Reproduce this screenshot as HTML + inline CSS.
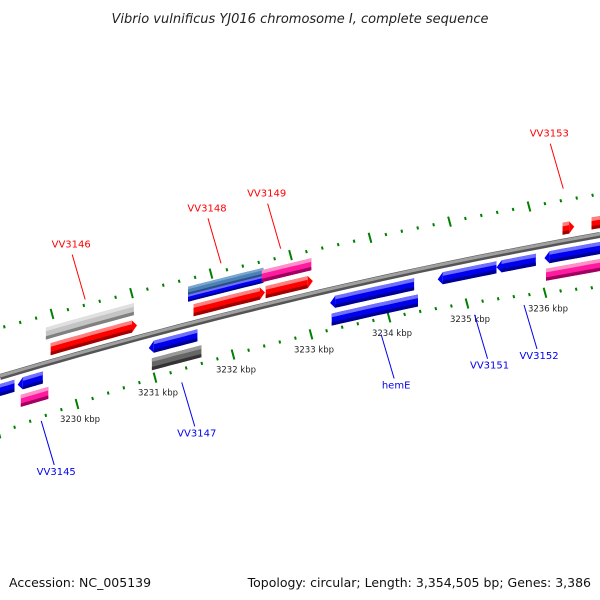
<!DOCTYPE html>
<html><head><meta charset="utf-8"><style>
html,body{margin:0;padding:0;background:#fff}
svg{display:block}
text{font-family:"DejaVu Sans","Liberation Sans",sans-serif}
</style></head><body>
<svg id="map" width="600" height="600" viewBox="0 0 600 600" xmlns="http://www.w3.org/2000/svg">
<text x="300" y="23" text-anchor="middle" font-size="13" font-style="italic" fill="#222">Vibrio vulnificus YJ016 chromosome I, complete sequence</text>
<text x="9" y="587" font-size="12.5" fill="#111">Accession: NC_005139</text>
<text x="591" y="587" text-anchor="end" font-size="12.5" fill="#111">Topology: circular; Length: 3,354,505 bp; Genes: 3,386</text>
<g id="layer"></g>
</svg>
<script>
// ---- data ----
const tickStartKbp = 3229;
const tickEndKbp = 3237;
const tickLabels = ["3230 kbp","3231 kbp","3232 kbp","3233 kbp","3234 kbp","3235 kbp","3236 kbp"];
const tickLabelKbp = [3230,3231,3232,3233,3234,3235,3236];
// features: start/end in kbp
const fwdInnerStart = [3229.83, 3231.65, 3232.57, 3236.35, 3236.72];
const fwdInnerEnd   = [3230.93, 3232.56, 3233.17, 3236.50, 3237.2];
const fwdInnerColor = ["red","red","red","red","red"];
const fwdOuterStart = [3229.77, 3231.58, 3232.52];
const fwdOuterEnd   = [3230.89, 3232.54, 3233.15];
const fwdOuterColor = ["lightgray","steelblue","pink"];
const revInnerStart = [3228.9, 3229.41, 3231.08, 3233.39, 3234.76, 3235.51, 3236.12];
const revInnerEnd   = [3229.37, 3229.73, 3231.70, 3234.46, 3235.51, 3236.01, 3237.2];
const revInnerColor = ["blue","blue","blue","blue","blue","blue","blue"];
const revOuterStart = [3229.45, 3231.12, 3233.41, 3236.14];
const revOuterEnd   = [3229.80, 3231.75, 3234.51, 3237.2];
const revOuterColor = ["pink","darkgray","blue","pink"];
const labelNames = ["VV3146","VV3148","VV3149","VV3153","VV3145","VV3147","hemE","VV3151","VV3152"];
const labelKbp   = [3230.27, 3232.0, 3232.76, 3236.36, 3229.71, 3231.50, 3234.04, 3235.23, 3235.86];
const labelStrand= [1,1,1,1,-1,-1,-1,-1,-1];

// ---- geometry ----
const NS="http://www.w3.org/2000/svg";
const layer=document.getElementById('layer');
function quad(a,b,c){return x=>{const t=x/300;return a*(t-1)*(t-2)/2 - b*t*(t-2) + c*t*(t-1)/2;};}
const bb=quad(377,297,235);
const topRing=quad(328,253,194);
const botRing=quad(433,337,287);
const xb=k=>64+78.5*(k-3230);
const xTop=k=>52+79.5*(k-3230);
const xBot=k=>77+78*(k-3230);
const pal={red:["#ff8080","#ff0000","#a00000"],blue:["#7070ff","#0000ee","#000090"],pink:["#ff90c8","#ff1aa0","#a00060"],lightgray:["#e0e0e0","#c4c4c4","#808080"],darkgray:["#999","#666","#333"],steelblue:["#7aa6d0","#4a82b8","#2a5080"]};
function el(tag,attrs,name){const e=document.createElementNS(NS,tag);for(const k in attrs)e.setAttribute(k,attrs[k]);


layer.appendChild(e);return e;}
function bandPts(x1,x2,o1,o2){const p=[];const n=8;for(let i=0;i<=n;i++){const x=x1+(x2-x1)*i/n;p.push(x.toFixed(1)+","+(bb(x)+o1).toFixed(1));}
for(let i=n;i>=0;i--){const x=x1+(x2-x1)*i/n;p.push(x.toFixed(1)+","+(bb(x)+o2).toFixed(1));}return p.join(" ");}
function feature(s,e,off,h,color,dir,arrow,name){
 let x1=xb(s),x2=xb(e);const c=pal[color];
 const a=arrow?5:0;
 let bx1=x1,bx2=x2;if(dir>0)bx2=x2-a;else bx1=x1+a;
 const t=off-h/2,b=off+h/2;
 el('polygon',{points:bandPts(bx1,bx2,t,b),fill:c[1]},name);
 el('polygon',{points:bandPts(bx1,bx2,t,t+h*0.3),fill:c[0]},name+'-highlight');
 el('polygon',{points:bandPts(bx1,bx2,b-h*0.28,b),fill:c[2]},name+'-shadow');
 if(arrow){const tx=dir>0?x2:x1,ex=dir>0?bx2:bx1;
  el('polygon',{points:`${ex},${bb(ex)+t} ${tx},${bb(tx)+off} ${ex},${bb(ex)+b}`,fill:c[1]},name+'-arrow');}
}
// backbone
(function(){const p=[];for(let x=0;x<=600;x+=20)p.push(x+","+bb(x).toFixed(1));
el('polyline',{points:p.join(" "),fill:"none",stroke:"#555",'stroke-width':6},'backbone');
const q=[];for(let x=0;x<=600;x+=20)q.push(x+","+(bb(x)-1).toFixed(1));
el('polyline',{points:q.join(" "),fill:"none",stroke:"#a0a0a0",'stroke-width':3},'backbone-highlight');})();
// ticks
for(let k=tickStartKbp*5;k<=tickEndKbp*5;k++){
 const kb=k/5, major=(k%5===0);
 [[xTop,topRing,'top'],[xBot,botRing,'bottom']].forEach(([fx,fr,nm])=>{
  const x=fx(kb); if(x<-5||x>605)return; const y=fr(x);
  const L=major?5:1.5;
  el('line',{x1:x-L*0.27,y1:y-L,x2:x+L*0.27,y2:y+L,stroke:"#008000",'stroke-width':2},(major?'major-tick-':'minor-tick-')+nm);
 });
}
tickLabels.forEach((t,i)=>{const x=xBot(tickLabelKbp[i])+3;const e=el('text',{x:x,y:botRing(x)+19,'font-size':8.5,'text-anchor':'middle',fill:'#222'},'tick-label');e.textContent=t;});
// features
fwdInnerStart.forEach((s,i)=>feature(s,fwdInnerEnd[i],-13,12,fwdInnerColor[i],1,true,'forward-gene'));
fwdOuterStart.forEach((s,i)=>{if(fwdOuterColor[i]==='steelblue'){feature(s,fwdOuterEnd[i],-34,8,'steelblue',1,false,'forward-gene-outer');feature(s,fwdOuterEnd[i],-26.5,7,'blue',1,false,'forward-gene-outer-blue');}
 else feature(s,fwdOuterEnd[i],-30,12,fwdOuterColor[i],1,false,'forward-gene-outer');});
revInnerStart.forEach((s,i)=>feature(s,revInnerEnd[i],13,12,revInnerColor[i],-1,true,'reverse-gene'));
revOuterStart.forEach((s,i)=>feature(s,revOuterEnd[i],30,12,revOuterColor[i],-1,false,'reverse-gene-outer'));
// labels
labelNames.forEach((n,i)=>{
 const x=xb(labelKbp[i]);const up=labelStrand[i]>0;const col=up?"#ff0000":"#0000ee";
 const y0=bb(x)+(up?-53:56);const y1=y0+(up?-45:44);const x1=x+(up?-13:13);
 el('line',{x1:x,y1:y0,x2:x1,y2:y1,stroke:col,'stroke-width':1},'label-line-'+n);
 const t=el('text',{x:up?x1-1:x1+2,y:up?y1-7:y1+10,'font-size':10,'text-anchor':'middle',fill:col},'gene-label-'+n);t.textContent=n;
});
</script>
</body></html>
